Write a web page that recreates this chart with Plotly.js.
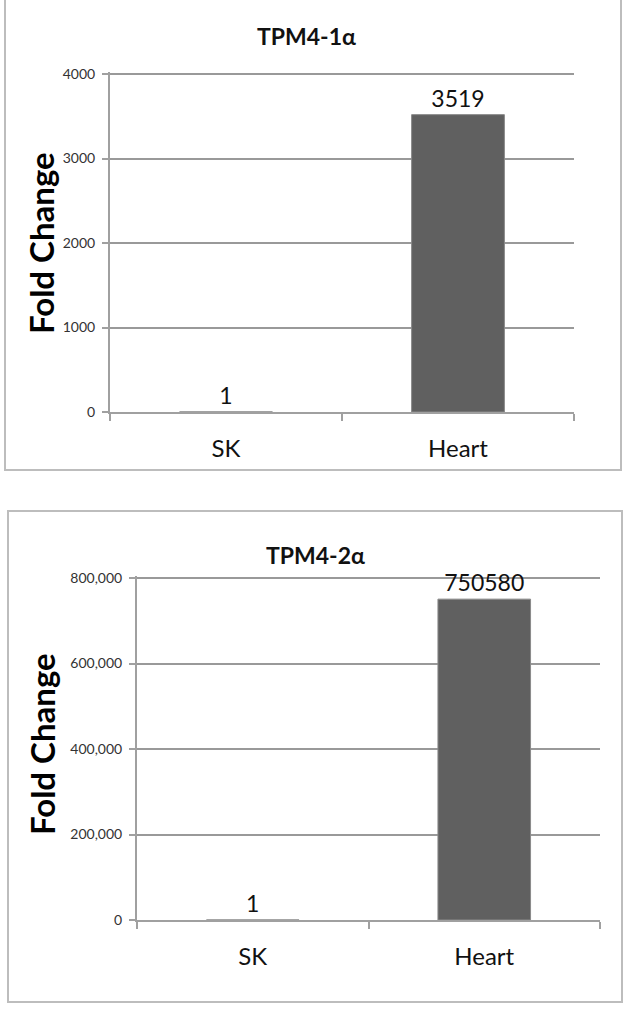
<!DOCTYPE html>
<html><head><meta charset="utf-8">
<script src="https://cdn.plot.ly/plotly-3.0.1.min.js"></script>
<style>html,body{margin:0;padding:0;background:#fff}#c{width:628px;height:1013px}</style>
</head><body><div id="c"></div>
<script>
const categories = ["SK", "Heart"];
const values1 = [1, 3519];
const values2 = [1, 750580];
const title1 = "TPM4-1α";
const title2 = "TPM4-2α";
const yTitle = "Fold Change";
const ticks1 = [0, 1000, 2000, 3000, 4000];
const ticks2 = [0, 200000, 400000, 600000, 800000];
const tickText2 = ["0", "200,000", "400,000", "600,000", "800,000"];

const W = 628, H = 1013;
const px = v => v / W, py = v => 1 - v / H;
const barColor = "#606060";
const f = "Lato, 'Open Sans', sans-serif";
const ext = 1.005;

function bar(y, xa, ya) {
  return {type: "bar", x: categories, y: y, xaxis: xa, yaxis: ya, width: 0.4,
    marker: {color: barColor, line: {color: "#8a8a8a", width: 1}},
    text: y.map(String), textposition: "outside", cliponaxis: false,
    textfont: {family: f, size: 23, color: "#111"}, hoverinfo: "none"};
}
function xax(d, anchor) {
  return {domain: d, anchor: anchor, type: "category", showline: true, linecolor: "#a0a0a0", linewidth: 2,
    ticks: "outside", tickson: "boundaries", ticklen: 7, tickcolor: "#a0a0a0", tickwidth: 2,
    showgrid: false, ticklabelstandoff: 14, tickfont: {family: f, size: 24, color: "#111"}, fixedrange: true};
}
function yax(d, anchor, tv, tt, top) {
  return {domain: d, anchor: anchor, range: [0, top * ext], tickvals: tv, ticktext: tt, showline: true, linecolor: "#a0a0a0", linewidth: 2,
    ticks: "outside", ticklen: 6, tickcolor: "#a0a0a0", tickwidth: 2, ticklabelstandoff: 4, showgrid: true, gridcolor: "#999", gridwidth: 2,
    zeroline: false, tickfont: {family: f, size: 14, color: "#333"}, fixedrange: true};
}

const top1 = 412 - 338 * ext, top2 = 920 - 342 * ext;
const data = [bar(values1, "x", "y"), bar(values2, "x2", "y2")];
const layout = {
  width: W, height: H, margin: {l: 0, r: 0, t: 0, b: 0}, showlegend: false,
  paper_bgcolor: "#fff", plot_bgcolor: "rgba(0,0,0,0)",
  xaxis: xax([px(110), px(574)], "y"),
  yaxis: yax([py(412), py(top1)], "x", ticks1, ticks1.map(String), 4000),
  xaxis2: xax([px(137), px(600)], "y2"),
  yaxis2: yax([py(920), py(top2)], "x2", ticks2, tickText2, 800000),
  shapes: [
    {type: "rect", xref: "paper", yref: "paper", x0: px(5), x1: px(621), y0: py(470), y1: py(-5), line: {color: "#bdbdbd", width: 2}},
    {type: "rect", xref: "paper", yref: "paper", x0: px(8), x1: px(622), y0: py(1002), y1: py(511), line: {color: "#bdbdbd", width: 2}}
  ],
  annotations: [
    {xref: "paper", yref: "paper", x: px(306), y: py(36), xanchor: "center", yanchor: "middle", text: "<b>" + title1 + "</b>", showarrow: false, font: {family: f, size: 23, color: "#111"}},
    {xref: "paper", yref: "paper", x: px(315), y: py(555), xanchor: "center", yanchor: "middle", text: "<b>" + title2 + "</b>", showarrow: false, font: {family: f, size: 23, color: "#111"}},
    {xref: "paper", yref: "paper", x: px(41), y: py(243), xanchor: "center", yanchor: "middle", text: "<b>" + yTitle + "</b>", textangle: -90, showarrow: false, font: {family: f, size: 33, color: "#000"}},
    {xref: "paper", yref: "paper", x: px(42), y: py(744), xanchor: "center", yanchor: "middle", text: "<b>" + yTitle + "</b>", textangle: -90, showarrow: false, font: {family: f, size: 33, color: "#000"}}
  ]
};
Plotly.newPlot("c", data, layout, {displayModeBar: false, staticPlot: true});
</script></body></html>
